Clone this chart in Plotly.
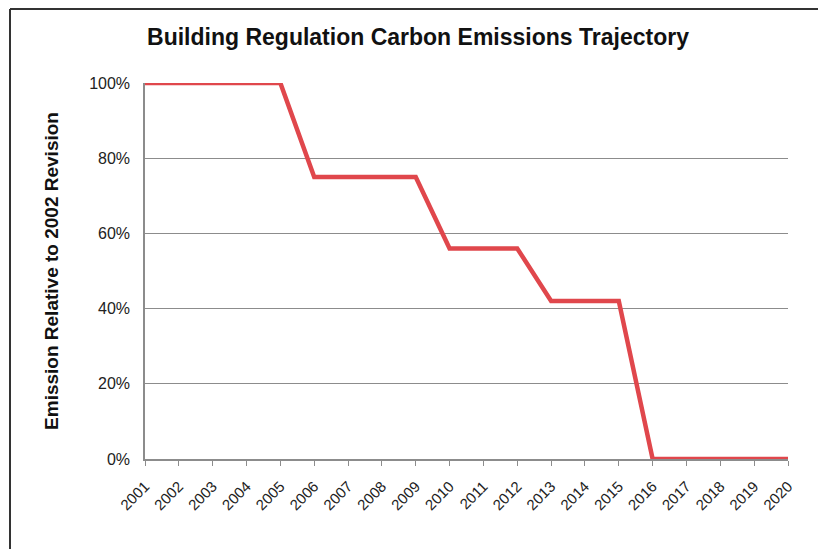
import plotly.graph_objects as go

years = list(range(2001, 2021))
emission_pct = [100, 100, 100, 100, 100, 75, 75, 75, 75, 56, 56, 56, 42, 42, 42, 0, 0, 0, 0, 0]
y_ticks = [0, 20, 40, 60, 80, 100]
y_tick_labels = ["0%", "20%", "40%", "60%", "80%", "100%"]

# page has 8px body margin; positions below are figure coordinates
OFF = 8
W, H = 826, 549
L, T = 145 - OFF, 83 - OFF
R = W - (788 - OFF)
B = H - (459 - OFF)
pw, ph = W - L - R, H - T - B

def px_to_paper_x(px):
    return (px - L) / pw

def px_to_paper_y(py):
    return 1 - (py - T) / ph

FONT = "Liberation Sans Narrow, Arial Narrow, Liberation Sans, Arial, sans-serif"

fig = go.Figure()
fig.add_trace(go.Scatter(
    x=years, y=emission_pct, mode="lines",
    line=dict(color="#E0474C", width=4.5),
    showlegend=False, hoverinfo="x+y",
))

fig.update_layout(
    width=W, height=H,
    margin=dict(l=L, r=R, t=T, b=B),
    paper_bgcolor="white", plot_bgcolor="white",
    title=dict(
        text="<b>Building Regulation Carbon Emissions Trajectory</b>",
        x=(418 - OFF) / W, xanchor="center", y=1 - (37 - OFF) / H, yanchor="middle",
        font=dict(family=FONT, size=23, color="#111111"),
    ),
    xaxis=dict(
        range=[2001, 2020], tickmode="array", tickvals=years,
        ticktext=[str(y) for y in years], tickangle=-45,
        showgrid=False, zeroline=False,
        showline=True, linecolor="#8c8c8c", linewidth=1.5,
        ticks="outside", ticklen=5, tickcolor="#8c8c8c", tickwidth=1.2,
        ticklabelstandoff=6,
        tickfont=dict(family=FONT, size=15, color="#222222"),
    ),
    yaxis=dict(
        range=[0, 100], tickmode="array", tickvals=y_ticks, ticktext=y_tick_labels,
        showgrid=True, gridcolor="#8c8c8c", gridwidth=1.2,
        zeroline=False, showline=True, linecolor="#8c8c8c", linewidth=1.5,
        ticks="", ticklabelstandoff=10,
        tickfont=dict(family=FONT, size=16, color="#222222"),
        title=dict(
            text="<b>Emission Relative to 2002 Revision</b>",
            font=dict(family=FONT, size=19, color="#111111"),
            standoff=25,
        ),
    ),
    shapes=[
        dict(type="line", xref="paper", yref="paper",
             x0=px_to_paper_x(2), x1=px_to_paper_x(2),
             y0=px_to_paper_y(H), y1=px_to_paper_y(1),
             line=dict(color="#333333", width=2)),
        dict(type="line", xref="paper", yref="paper",
             x0=px_to_paper_x(2), x1=px_to_paper_x(W),
             y0=px_to_paper_y(1), y1=px_to_paper_y(1),
             line=dict(color="#333333", width=2)),
    ],
)

fig.write_html("out.html")
